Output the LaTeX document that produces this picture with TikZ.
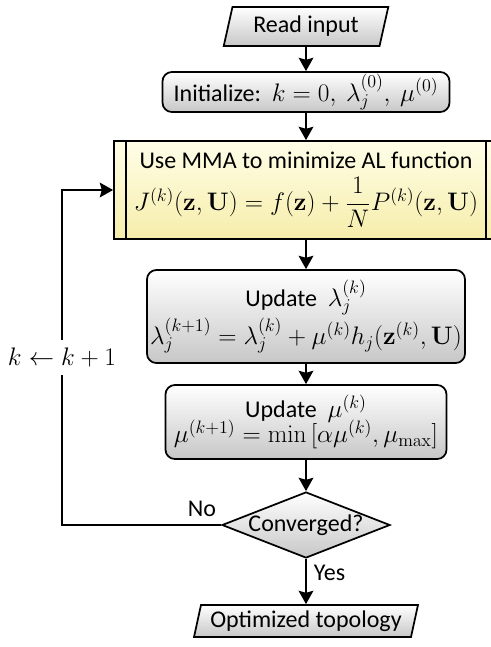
\documentclass[tikz,border=0pt]{standalone}
\usepackage{fix-cm}
\usepackage[no-math]{fontspec}
\setmainfont{Carlito}
\usetikzlibrary{shapes.geometric,arrows.meta}
\DeclareMathSizes{18}{19}{13.5}{10}

\definecolor{mmatop}{RGB}{255,254,232}
\definecolor{mmabot}{RGB}{246,237,170}

\tikzset{every picture/.style={line width=1.3pt}}
\tikzset{
  arr/.style={-{Stealth[length=10pt,width=11pt,inset=1.5pt]}},
  txt/.style={font=\fontsize{18}{22}\selectfont},
  iobox/.style={txt, draw, trapezium, trapezium left angle=73, trapezium right angle=107,
    trapezium stretches=true, top color=white, bottom color=black!22, inner sep=0pt},
  procbox/.style={txt, draw, rounded corners=7pt, top color=white, bottom color=black!22,
    align=center, inner sep=0pt},
  mmabox/.style={txt, draw, rectangle, top color=mmatop, bottom color=mmabot,
    align=center, inner sep=0pt},
  decbox/.style={txt, draw, diamond, aspect=2.55, top color=white, bottom color=black!22,
    inner sep=0pt},
}

\begin{document}
\begin{tikzpicture}[x=0.75pt,y=0.75pt,yscale=-1,xscale=1]
\useasboundingbox (0,0) rectangle (491,647);

%Shape: Parallelogram [id:read]
\node[iobox, minimum width=124.5pt, minimum height=29.25pt] (read) at (306,26.5) {Read input};
%Shape: Rounded Rectangle [id:init]
\node[procbox, minimum width=215.25pt, minimum height=30pt] (init) at (306,92)
  {Initialize:\ \ $k=0,\ \lambda_j^{(0)},\ \mu^{(0)}$};
%Shape: Predefined Process [id:mma]
\node[mmabox, minimum width=288pt, minimum height=73.5pt] (mma) at (306,190)
  {Use MMA to minimize AL function\\[5pt]
   $J^{(k)}(\mathbf{z},\mathbf{U})=f(\mathbf{z})+{\displaystyle\frac{1}{N}}P^{(k)}(\mathbf{z},\mathbf{U})$};
\draw ([xshift=9.75pt]mma.north west) -- ([xshift=9.75pt]mma.south west) ;
\draw ([xshift=-9.75pt]mma.north east) -- ([xshift=-9.75pt]mma.south east) ;
%Shape: Rounded Rectangle [id:lam]
\node[procbox, minimum width=238.5pt, minimum height=69.75pt] (lam) at (306,316.5)
  {Update\ \ $\lambda_j^{(k)}$\\[1pt]
   $\lambda_j^{(k+1)}=\lambda_j^{(k)}+\mu^{(k)}h_j(\mathbf{z}^{(k)},\mathbf{U})$};
%Shape: Rounded Rectangle [id:mu]
\node[procbox, minimum width=210.75pt, minimum height=55.5pt] (mu) at (306,422)
  {Update\ \ $\mu^{(k)}$\\[-3pt]
   $\mu^{(k+1)}=\min\Big[\alpha\mu^{(k)},\mu_{\max}\Big]$};
%Shape: Diamond [id:conv]
\node[decbox, minimum width=126pt, minimum height=49.5pt] (conv) at (306,525) {Converged?};
%Shape: Parallelogram [id:out]
\node[iobox, minimum width=168pt, minimum height=24pt] (out) at (306,621) {Optimized topology};

%Straight Lines
\draw[arr] (read) -- (init) ;
\draw[arr] (init) -- (mma) ;
\draw[arr] (mma) -- (lam) ;
\draw[arr] (lam) -- (mu) ;
\draw[arr] (mu) -- (conv) ;
\draw[arr] (conv) -- node[txt, right=2pt, pos=0.3] {Yes} (out) ;
%Loop back
\coordinate (turn) at (62,525) ;
\draw[arr] (conv.west) -- node[txt, above=2pt, pos=0.12] {No} (turn)
  |- node[txt, pos=0.25, fill=white, inner sep=6pt] {$k\leftarrow k+1$} (mma.west) ;

\end{tikzpicture}
\end{document}
